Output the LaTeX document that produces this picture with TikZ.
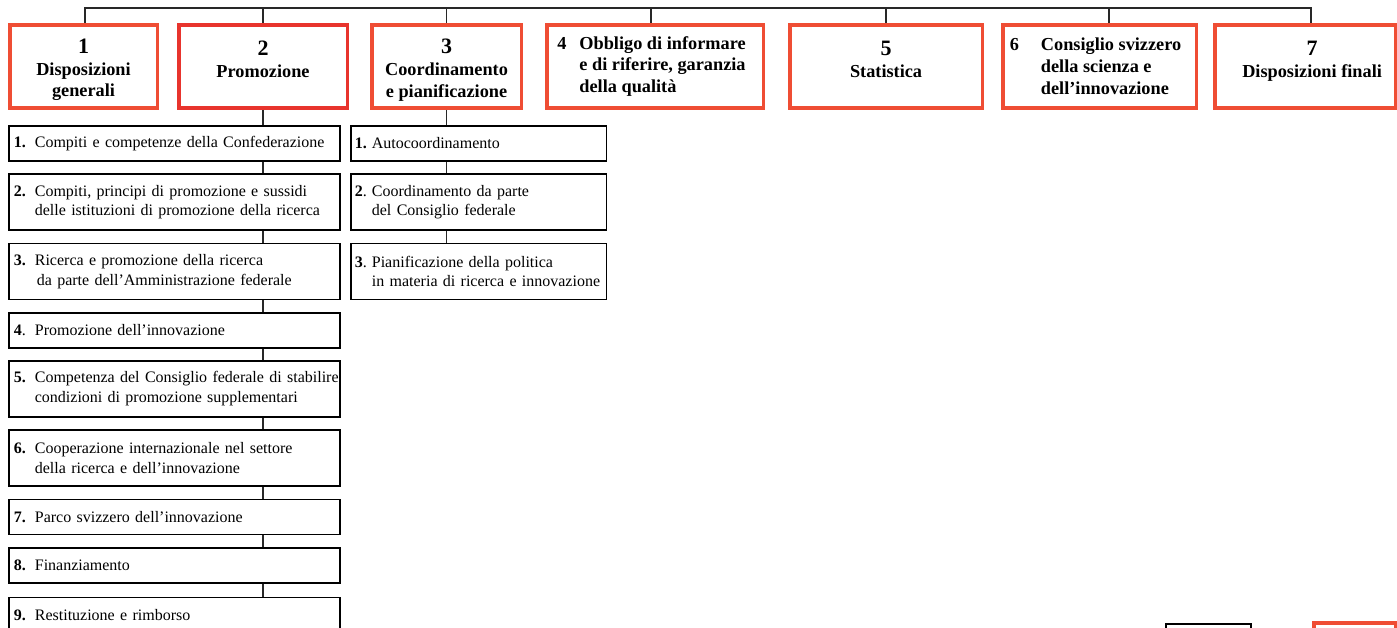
\documentclass[tikz,border=0pt]{standalone}
\usepackage{fontspec}
\setmainfont{Liberation Serif}
\usetikzlibrary{positioning}

\definecolor{boxred}{RGB}{239,77,52}
\definecolor{boxredd}{RGB}{232,52,45}
\definecolor{linegray}{RGB}{40,40,40}

\newcommand{\numbox}[2][0.42cm]{\makebox[#1][l]{#2}}
\newcommand{\bignum}[1]{{\fontsize{12.5}{14}\selectfont\rule{0pt}{12pt}#1}}

\begin{document}
\begin{tikzpicture}[
    node distance=0.23cm,
    titlebox/.style={
        draw=boxred,
        line width=2pt,
        minimum height=1.67cm,
        align=center,
        inner sep=0pt,
        font=\fontsize{10.4}{12.5}\selectfont\bfseries
    },
    itembox/.style={
        draw=black,
        line width=1pt,
        minimum height=0.70cm,
        align=left,
        inner ysep=0pt,
        font=\fontsize{9.1}{11.3}\selectfont
    },
    colA/.style={itembox, inner xsep=0.1cm, text width=6.425cm},
    colB/.style={itembox, inner xsep=0.08cm, text width=4.95cm},
    tall/.style={minimum height=1.12cm},
    link/.style={
        draw=linegray,
        line width=0.9pt
    }
]
\useasboundingbox (0,0) rectangle (27.94,-12.56);
\clip (0,0) rectangle (27.94,-12.56);

% Titoli
\node[titlebox, minimum width=2.95cm, anchor=north west] (p1) at (0.16,-0.46)
    {\bignum{1}\\Disposizioni\\generali};
\node[titlebox, draw=boxredd, minimum width=3.37cm, right=0.36cm of p1] (p2)
    {\bignum{2}\\Promozione\\\mbox{}};
\node[titlebox, minimum width=2.99cm, right=0.42cm of p2] (p3)
    {\bignum{3}\\Coordinamento\\e pianificazione};
\node[titlebox, minimum width=4.33cm, align=left, right=0.44cm of p3] (p4)
    {\numbox[0.44cm]{4}Obbligo di informare\hspace*{0.14cm}\\\hspace*{0.44cm}e di riferire, garanzia\\\hspace*{0.44cm}della qualità};
\node[titlebox, minimum width=3.85cm, right=0.46cm of p4] (p5)
    {\bignum{5}\\Statistica\\\mbox{}};
\node[titlebox, minimum width=3.87cm, align=left, right=0.34cm of p5] (p6)
    {\numbox[0.62cm]{6}Consiglio svizzero\hspace*{0.16cm}\\\hspace*{0.62cm}della scienza e\\\hspace*{0.62cm}dell’innovazione};
\node[titlebox, minimum width=3.61cm, right=0.30cm of p6] (p7)
    {\hspace*{0.28cm}\bignum{7}\\\hspace*{0.28cm}Disposizioni finali\\\mbox{}};

% Promozione
\node[colA, anchor=north west] (a1) at (0.16,-2.50)
    {\numbox{\textbf{1.}}Compiti e competenze della Confederazione};
\node[colA, tall, below=of a1] (a2)
    {\numbox{\textbf{2.}}\mbox{Compiti, principi di promozione e sussidi}\\\hspace*{0.42cm}\mbox{delle istituzioni di promozione della ricerca}};
\node[colA, tall, below=of a2] (a3)
    {\numbox{\textbf{3.}}Ricerca e promozione della ricerca\\\hspace*{0.46cm}\mbox{da parte dell’Amministrazione federale}};
\node[colA, below=of a3] (a4)
    {\numbox{\textbf{4}.}Promozione dell’innovazione};
\node[colA, tall, below=of a4] (a5)
    {\numbox{\textbf{5.}}\mbox{Competenza del Consiglio federale di stabilire}\\\hspace*{0.42cm}\mbox{condizioni di promozione supplementari}};
\node[colA, tall, below=of a5] (a6)
    {\numbox{\textbf{6.}}\mbox{Cooperazione internazionale nel settore}\\\hspace*{0.42cm}della ricerca e dell’innovazione};
\node[colA, below=of a6] (a7)
    {\numbox{\textbf{7.}}Parco svizzero dell’innovazione};
\node[colA, below=of a7] (a8)
    {\numbox{\textbf{8.}}Finanziamento};
\node[colA, below=0.26cm of a8] (a9)
    {\numbox{\textbf{9.}}Restituzione e rimborso};

% Coordinamento
\node[colB, anchor=north west] (b1) at (7.00,-2.50)
    {\numbox[0.34cm]{\textbf{1.}}Autocoordinamento};
\node[colB, tall, below=of b1] (b2)
    {\numbox[0.34cm]{\textbf{2}.}Coordinamento da parte\\\hspace*{0.34cm}del Consiglio federale};
\node[colB, tall, below=of b2] (b3)
    {\numbox[0.34cm]{\textbf{3}.}Pianificazione della politica\\\hspace*{0.34cm}\mbox{in materia di ricerca e innovazione}};

% Riquadri in basso (tagliati)
\node[draw=black, line width=1pt, minimum width=1.70cm, minimum height=1cm, anchor=north west] (c1) at (23.30,-12.46) {};
\node[draw=boxred, line width=2pt, minimum width=1.64cm, minimum height=1cm, anchor=north west] (c2) at (26.24,-12.42) {};

% Linea orizzontale
\coordinate (bus) at (0,-0.16);
\draw[link] ([xshift=0.03cm]p1.north) -- ([xshift=0.03cm]p1.north |- bus)
    -- ([xshift=0.12cm]p7.north |- bus) -- ([xshift=0.12cm]p7.north);
\draw[link] (p2.north) -- (p2.north |- bus);
\draw[link] (p3.north) -- (p3.north |- bus);
\draw[link] ([xshift=-0.08cm]p4.north) -- ([xshift=-0.08cm]p4.north |- bus);
\draw[link] (p5.north) -- (p5.north |- bus);
\draw[link] ([xshift=0.19cm]p6.north) -- ([xshift=0.19cm]p6.north |- bus);

% Colonna 2
\draw[link] (p2.south) -- (p2.south |- a1.north);
\draw[link] (p2.south |- a1.south) -- (p2.south |- a2.north);
\draw[link] (p2.south |- a2.south) -- (p2.south |- a3.north);
\draw[link] (p2.south |- a3.south) -- (p2.south |- a4.north);
\draw[link] (p2.south |- a4.south) -- (p2.south |- a5.north);
\draw[link] (p2.south |- a5.south) -- (p2.south |- a6.north);
\draw[link] (p2.south |- a6.south) -- (p2.south |- a7.north);
\draw[link] (p2.south |- a7.south) -- (p2.south |- a8.north);
\draw[link] (p2.south |- a8.south) -- (p2.south |- a9.north);

% Colonna 3
\draw[link] (p3.south) -- (p3.south |- b1.north);
\draw[link] (p3.south |- b1.south) -- (p3.south |- b2.north);
\draw[link] (p3.south |- b2.south) -- (p3.south |- b3.north);

\end{tikzpicture}
\end{document}
